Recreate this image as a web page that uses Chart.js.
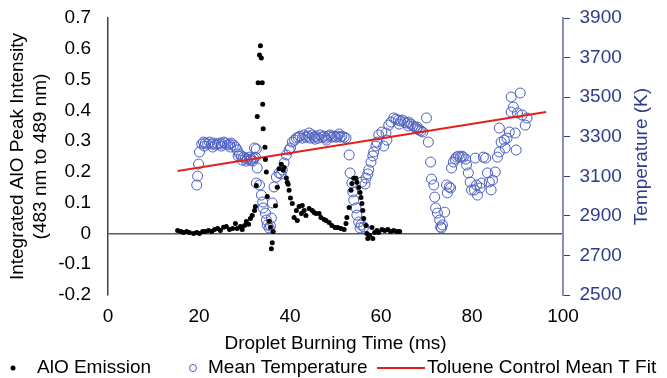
<!DOCTYPE html>
<html>
<head>
<meta charset="utf-8">
<script src="https://cdn.jsdelivr.net/npm/chart.js@4"></script>
<style>
  html, body { margin: 0; padding: 0; background: #fff; }
</style>
</head>
<body>
<canvas id="myChart" width="667" height="378"></canvas>
<script>
// AlO emission (left axis)
var aloTime = [15.3, 16.0, 16.6, 17.3, 17.9, 18.8, 19.5, 20.1, 20.8, 21.4, 22.1, 22.8, 23.4, 24.1, 24.7, 25.4, 26.0, 26.7, 27.4, 28.0,
  28.4, 29.1, 29.5, 30.0, 30.4, 30.9, 31.3, 31.7, 32.2, 32.4, 32.6, 32.8, 33.0, 33.3, 33.5, 33.7, 33.9, 34.0, 34.1, 34.5,
  34.6, 34.8, 35.0, 35.4, 35.7, 35.9, 36.1, 36.3, 36.8, 37.2, 37.6, 38.1, 38.5, 38.7, 39.2, 39.4, 39.6, 39.8, 40.1, 40.5,
  40.9, 41.4, 41.6, 42.0, 42.5, 42.7, 43.1, 43.5, 44.2, 44.9, 45.3, 45.7, 46.4, 46.8, 47.5, 47.9, 48.6, 49.2, 49.9, 50.5,
  51.2, 51.9, 52.3, 52.5, 53.0, 53.4, 53.6, 54.0, 54.5, 54.7, 55.1, 55.4, 55.6, 55.8, 56.0, 56.2, 56.7, 56.9, 57.1, 57.5,
  58.0, 58.2, 58.6, 59.1, 59.5, 60.2, 60.8, 61.5, 62.1, 62.8, 63.5, 64.1];
var aloValue = [0.010, 0.006, 0.003, 0.006, 0.003, 0.0, 0.003, 0.0, 0.006, 0.006, 0.010, 0.006, 0.013, 0.016, 0.010, 0.020, 0.023, 0.013, 0.016, 0.032,
  0.016, 0.023, 0.013, 0.026, 0.039, 0.030, 0.049, 0.058, 0.075, 0.088, 0.156, 0.38, 0.49, 0.58, 0.61, 0.57, 0.49, 0.42, 0.34, 0.28,
  0.24, 0.20, 0.12, 0.04, 0.02, -0.05, -0.03, 0.006, 0.09, 0.15, 0.21, 0.225, 0.205, 0.214, 0.18, 0.166, 0.16, 0.14, 0.115, 0.097,
  0.052, 0.075, 0.042, 0.088, 0.065, 0.091, 0.075, 0.058, 0.081, 0.075, 0.068, 0.065, 0.065, 0.052, 0.045, 0.042, 0.036, 0.026, 0.019, 0.019,
  0.016, 0.013, 0.032, 0.052, 0.084, 0.14, 0.162, 0.179, 0.179, 0.166, 0.149, 0.133, 0.117, 0.097, 0.075, 0.049, 0.026, 0.0, -0.016, -0.006,
  0.019, -0.016, 0.003, 0.010, 0.003, 0.013, 0.010, 0.013, 0.006, 0.010, 0.006, 0.006];

// mean temperature (right axis)
var tempTime = [19.5, 19.7, 19.9, 20.1, 20.6, 21.0, 21.2, 21.4, 21.9, 22.3, 22.8, 23.0, 23.2, 23.6, 24.1, 24.5, 24.9, 25.0, 25.4, 25.8,
  26.3, 26.7, 26.9, 27.1, 27.6, 28.0, 28.4, 28.6, 28.9, 29.3, 29.5, 29.8, 30.2, 30.4, 30.6, 31.1, 31.3, 31.5, 31.8, 32.0,
  32.2, 32.4, 32.6, 32.8, 32.6, 33.3, 33.7, 34.0, 34.1, 34.6, 34.8, 35.0, 35.4, 35.7, 35.9, 36.1, 36.5, 37.0, 37.6, 38.0,
  38.3, 38.7, 39.2, 39.8, 40.1, 40.5, 41.0, 41.4, 41.8, 42.2, 42.7, 43.1, 43.5, 44.0, 44.2, 44.4, 44.9, 45.3, 45.5, 45.7,
  46.2, 46.6, 47.0, 47.5, 47.9, 48.0, 48.4, 48.8, 49.2, 49.7, 50.1, 50.5, 50.8, 51.0, 51.4, 51.9, 52.3, 53.0, 53.2, 53.6,
  53.8, 54.0, 54.5, 54.7, 55.1, 55.4, 55.6, 55.8, 56.2, 56.5, 56.7, 57.1, 57.3, 57.8, 58.2, 58.4, 58.9, 59.1, 59.5, 60.2,
  60.6, 61.1, 61.3, 61.7, 62.2, 62.8, 63.3, 63.8, 64.0, 64.3, 64.8, 65.2, 65.7, 66.0, 66.1, 66.6, 67.0, 67.5, 67.9, 68.0,
  68.4, 68.8, 69.2, 70.0, 70.4, 70.9, 71.1, 71.6, 71.8, 72.0, 72.4, 72.9, 73.1, 73.3, 73.5, 74.0, 74.4, 74.6, 75.0, 75.3,
  75.5, 75.9, 76.3, 76.6, 77.0, 77.4, 77.8, 78.1, 78.6, 78.8, 79.2, 79.6, 79.9, 80.5, 80.7, 81.0, 81.2, 81.8, 82.1, 82.5,
  83.0, 83.4, 83.8, 84.2, 84.5, 85.1, 85.6, 86.0, 86.0, 86.4, 87.1, 87.3, 87.7, 88.2, 88.6, 88.6, 89.1, 89.5, 89.7, 90.0,
  90.6, 91.0, 91.7, 92.1];
var tempValue = [3056, 3101, 3162, 3223, 3263, 3273, 3253, 3268, 3263, 3273, 3263, 3248, 3268, 3258, 3263, 3268, 3253, 3263, 3273, 3268,
  3258, 3263, 3248, 3268, 3258, 3248, 3233, 3203, 3213, 3203, 3182, 3197, 3192, 3177, 3187, 3197, 3182, 3187, 3177, 3192,
  3243, 3197, 3238, 3142, 3066, 3056, 3005, 2970, 2940, 2914, 2879, 2854, 2839, 2849, 2889, 2965, 3046, 3096, 3117, 3112,
  3132, 3167, 3208, 3233, 3243, 3273, 3283, 3293, 3298, 3303, 3293, 3309, 3298, 3303, 3319, 3293, 3309, 3298, 3288, 3303,
  3293, 3309, 3298, 3303, 3293, 3283, 3303, 3309, 3298, 3303, 3298, 3303, 3314, 3298, 3303, 3298, 3293, 3208, 3117, 3066,
  3021, 2980, 2940, 2904, 2869, 2839, 2854, 3071, 2844, 3061, 3091, 3112, 3132, 3172, 3203, 3223, 3253, 3273, 3309, 3324,
  3253, 3319, 3283, 3359, 3374, 3395, 3389, 3384, 3364, 3379, 3384, 3374, 3369, 3354, 3374, 3364, 3354, 3349, 3339, 3349,
  3334, 3329, 3324, 3395, 3273, 3172, 3086, 3056, 2995, 2940, 2914, 2879, 2844, 2839, 2854, 2919, 3056, 3016, 3046, 3041,
  3142, 3172, 3187, 3197, 3202, 3197, 3202, 3197, 3187, 3157, 3117, 3071, 3031, 3031, 3192, 3056, 3005, 3041, 3066, 3197,
  3192, 3117, 3071, 3031, 3081, 3122, 3197, 3223, 3344, 3273, 3283, 3243, 3293, 3324, 3425, 3501, 3450, 3319, 3233, 3420,
  3521, 3410, 3359, 3395];

// toluene control mean T fit
var fitTime = [15.3, 96.3];
var fitTemp = [3127, 3425];

var legendLabels = ['AlO Emission', 'Mean Temperature', 'Toluene Control Mean T Fit'];

var fontFamily = '"Liberation Sans", Arial, sans-serif';
var navy = '#2E3C8A';
var tempColor = '#4A5DC0';
var fitColor = '#E3211C';

function pairs(xs, ys) {
	return xs.map(function (x, i) { return { x: x, y: ys[i] }; });
}

Chart.defaults.font.family = fontFamily;
Chart.defaults.font.size = 19;
Chart.defaults.color = '#000';

// right title reads bottom-to-top and legend is drawn by hand
var extras = {
	id: 'extras',
	afterDraw: function (chart) {
		var c = chart.ctx;
		var area = chart.chartArea;
		c.save();
		c.font = '19px ' + fontFamily;
		c.textBaseline = 'middle';

		c.save();
		c.translate(chart.scales.y2.right - 25, (area.top + area.bottom) / 2);
		c.rotate(-Math.PI / 2);
		c.textAlign = 'center';
		c.fillStyle = navy;
		c.fillText('Temperature (K)', 0, 0);
		c.restore();

		var y = 368;
		c.textAlign = 'left';
		c.fillStyle = '#000';
		c.beginPath();
		c.arc(13, y, 2.5, 0, Math.PI * 2);
		c.fill();
		c.fillText(legendLabels[0], 37, y);

		c.strokeStyle = tempColor;
		c.lineWidth = 1;
		c.beginPath();
		c.arc(193, y, 3.5, 0, Math.PI * 2);
		c.stroke();
		c.fillText(legendLabels[1], 208, y);

		c.strokeStyle = fitColor;
		c.lineWidth = 2;
		c.beginPath();
		c.moveTo(377, y);
		c.lineTo(425, y);
		c.stroke();
		c.fillText(legendLabels[2], 427, y);
		c.restore();
	}
};

var ctx = document.getElementById('myChart').getContext('2d');
var myChart = new Chart(ctx, {
	type: 'scatter',
	data: {
		datasets: [{
			label: legendLabels[0],
			data: pairs(aloTime, aloValue),
			yAxisID: 'y',
			pointRadius: 2.5,
			pointBorderWidth: 0,
			backgroundColor: '#000',
			borderColor: '#000'
		}, {
			label: legendLabels[2],
			data: pairs(fitTime, fitTemp),
			yAxisID: 'y2',
			showLine: true,
			pointRadius: 0,
			borderColor: fitColor,
			borderWidth: 2
		}, {
			label: legendLabels[1],
			data: pairs(tempTime, tempValue),
			yAxisID: 'y2',
			pointRadius: 5,
			pointBorderWidth: 1,
			backgroundColor: 'rgba(0,0,0,0)',
			borderColor: tempColor
		}]
	},
	options: {
		responsive: false,
		animation: false,
		layout: { padding: { top: 18, bottom: 23, left: 0, right: 0 } },
		plugins: {
			legend: { display: false },
			tooltip: { enabled: false }
		},
		scales: {
			x: {
				type: 'linear',
				min: 0,
				max: 100,
				ticks: { stepSize: 20, padding: 10 },
				grid: { display: false, drawTicks: false },
				border: { display: false },
				title: { display: true, text: 'Droplet Burning Time (ms)', padding: 0 },
				afterFit: function (s) { s.height = 60; }
			},
			y: {
				position: 'left',
				min: -0.2,
				max: 0.7,
				ticks: {
					stepSize: 0.1,
					padding: 0,
					callback: function (v) { return String(Math.round(v * 10) / 10); }
				},
				grid: {
					drawTicks: true,
					tickLength: 17,
					tickColor: 'rgba(0,0,0,0)',
					lineWidth: 1.5,
					color: function (c) {
						return c.tick && Math.abs(c.tick.value) < 1e-9 ? '#595959' : 'rgba(0,0,0,0)';
					}
				},
				border: { display: true, color: '#404040', width: 1.5 },
				title: {
					display: true,
					text: ['Integrated AlO Peak Intensity', '(483 nm to 489 nm)'],
					padding: { top: 6.6, bottom: 0 }
				},
				afterFit: function (s) { s.width = 108; }
			},
			y2: {
				position: 'right',
				min: 2500,
				max: 3900,
				ticks: {
					stepSize: 200,
					padding: 9.5,
					color: navy,
					font: { lineHeight: 0.9 },
					callback: function (v) { return v; }
				},
				grid: { drawOnChartArea: false, tickLength: 7, color: navy, lineWidth: 1 },
				border: { color: '#8A8FBF', width: 2 },
				afterFit: function (s) { s.width = 104; }
			}
		}
	},
	plugins: [extras]
});
</script>
</body>
</html>
